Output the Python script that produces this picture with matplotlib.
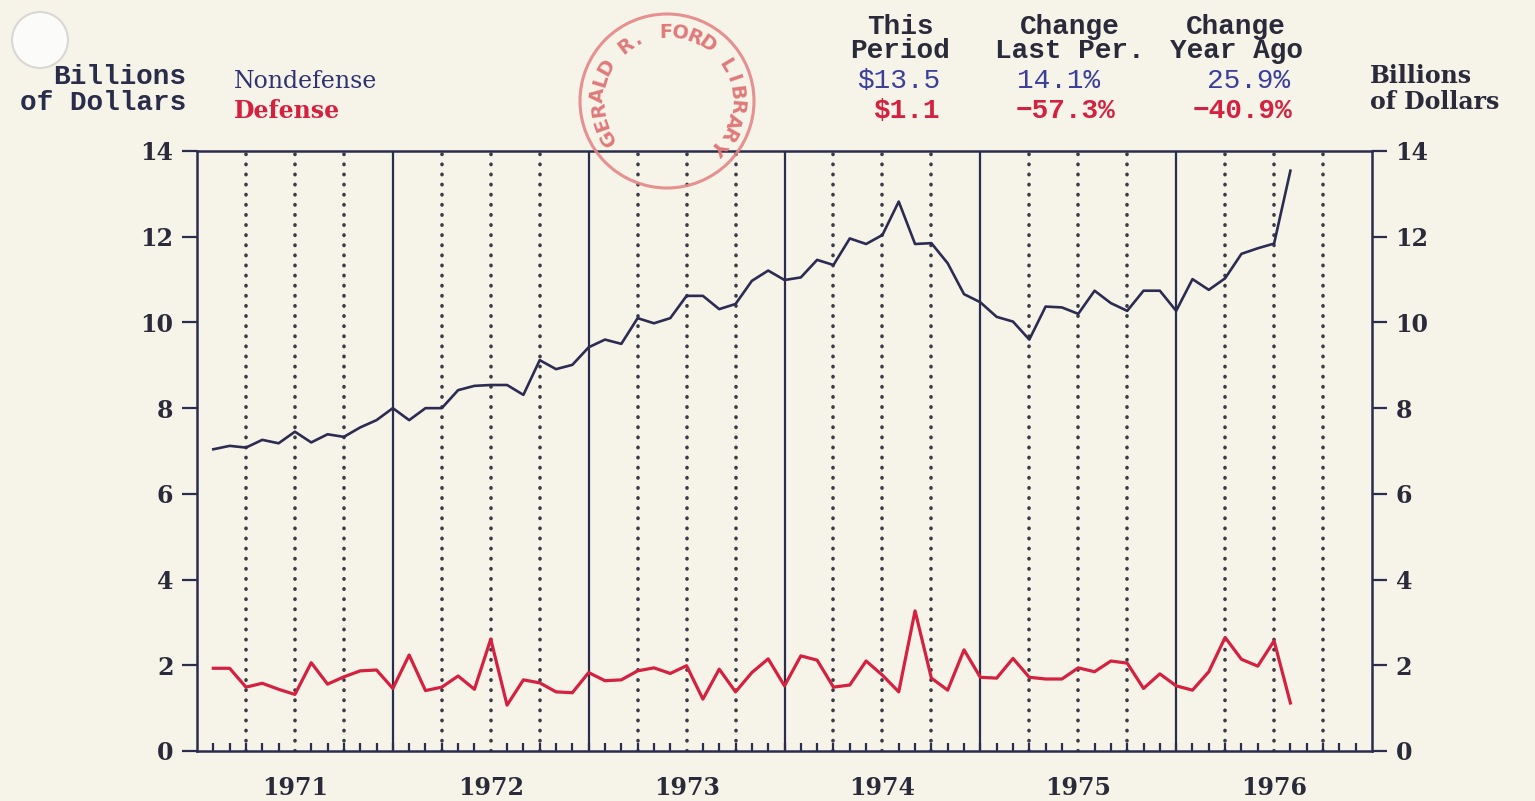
import numpy as np
import pandas as pd
import matplotlib
matplotlib.use("Agg")
import matplotlib.pyplot as plt
from matplotlib.patches import Circle

# -------------------------------
# Data (monthly, Jan 1971 - Jul 1976, billions of dollars)
# -------------------------------
months = pd.period_range("1971-01", "1976-07", freq="M")

nondefense = [
    7.04, 7.12, 7.08, 7.26, 7.18, 7.45, 7.20, 7.39, 7.33, 7.55, 7.72, 8.00,
    7.72, 8.00, 8.00, 8.42, 8.52, 8.54, 8.54, 8.31, 9.12, 8.91, 9.01, 9.42,
    9.60, 9.50, 10.10, 9.98, 10.10, 10.62, 10.62, 10.31, 10.43, 10.97, 11.21, 10.99,
    11.05, 11.46, 11.34, 11.96, 11.83, 12.04, 12.82, 11.83, 11.85, 11.38, 10.66, 10.47,
    10.13, 10.02, 9.60, 10.37, 10.35, 10.20, 10.74, 10.45, 10.27, 10.74, 10.74, 10.27,
    11.01, 10.76, 11.03, 11.60, 11.73, 11.84, 13.54,
]

defense = [
    1.93, 1.93, 1.49, 1.58, 1.44, 1.32, 2.06, 1.56, 1.73, 1.87, 1.89, 1.46,
    2.24, 1.41, 1.49, 1.75, 1.44, 2.61, 1.07, 1.66, 1.59, 1.38, 1.36, 1.83,
    1.64, 1.66, 1.87, 1.94, 1.81, 1.99, 1.21, 1.91, 1.38, 1.83, 2.15, 1.52,
    2.22, 2.12, 1.49, 1.54, 2.10, 1.77, 1.38, 3.27, 1.70, 1.42, 2.36, 1.72,
    1.70, 2.16, 1.72, 1.68, 1.68, 1.94, 1.85, 2.10, 2.05, 1.46, 1.80, 1.52,
    1.42, 1.85, 2.65, 2.14, 1.98, 2.57, 1.12,
]

years = [1971, 1972, 1973, 1974, 1975, 1976]
y_ticks = [0, 2, 4, 6, 8, 10, 12, 14]

header_cols = ["This\nPeriod", "Change\nLast Per.", "Change\nYear Ago"]
nondef_stats = ["$13.5", "14.1%", "25.9%"]
def_stats = ["$1.1", "\u221257.3%", "\u221240.9%"]

stamp_text = "GERALD R. FORD LIBRARY"

# -------------------------------
# Style
# -------------------------------
W, H = 1535, 801
bg = "#f6f3e9"
navy = "#2b2d4e"
line_navy = "#2c2b52"
red = "#d4213f"
blue = "#3a3f9a"
serif = "DejaVu Serif"
mono = "Liberation Mono"

# x position: months since Dec 1970, plotted at month end
x = np.array([(p.year - 1971) * 12 + p.month for p in months])

fig = plt.figure(figsize=(W / 100, H / 100), dpi=100, facecolor=bg)
ax = fig.add_axes([197 / W, 1 - 751 / H, (1372 - 197) / W, 600 / H])
ax.set_facecolor(bg)

# quarter / year gridlines
for q in range(3, 72, 3):
    if q % 12 == 0:
        ax.axvline(q, color=navy, lw=1.6, zorder=1)
    else:
        ax.axvline(q, color="#3a3a48", lw=2.6, ls=(0, (0.1, 2.7)),
                   dash_capstyle="round", zorder=1)

ax.plot(x, nondefense, color=line_navy, lw=1.9, zorder=3)
ax.plot(x, defense, color=red, lw=2.3, zorder=3)

ax.set_xlim(0, 72)
ax.set_ylim(0, 14)

ax.set_xticks([(y - 1971) * 12 + 6 for y in years])
ax.set_xticklabels([str(y) for y in years])
ax.set_xticks(range(1, 72), minor=True)
ax.tick_params(axis="x", which="major", length=0, pad=18)
ax.tick_params(axis="x", which="minor", direction="in", length=6, width=1.6, color=navy)

ax.set_yticks(y_ticks)
ax.tick_params(axis="y", which="major", direction="out", length=11, width=1.6,
               color=navy, left=True, right=True, labelleft=True, labelright=True, pad=6)

for lab in ax.get_xticklabels():
    lab.set_fontfamily(serif)
    lab.set_fontweight("bold")
    lab.set_fontsize(17)
    lab.set_color("#2a2a3a")
for t in ax.yaxis.get_major_ticks():
    for lbl in (t.label1, t.label2):
        lbl.set_fontfamily(serif)
        lbl.set_fontweight("bold")
        lbl.set_fontsize(17)
        lbl.set_color("#2a2a3a")

for s in ax.spines.values():
    s.set_color(navy)
    s.set_linewidth(1.8)


def ftext(px, py, s, **kw):
    fig.text(px / W, 1 - py / H, s, va="center", **kw)


# -------------------------------
# Header texts
# -------------------------------
ftext(186, 90, "Billions\nof Dollars", ha="right", family=mono, weight="bold",
      fontsize=20, color="#2a2d4a", linespacing=1.0)
ftext(234, 82, "Nondefense", ha="left", family=serif, fontsize=17, color="#2e3270")
ftext(234, 111, "Defense", ha="left", family=serif, weight="bold", fontsize=17, color=red)

ftext(1370, 89, "Billions\nof Dollars", ha="left", family=serif, weight="bold",
      fontsize=17, color="#2a2a3a", linespacing=1.1)

col_x = [900, 1070, 1236]
for cx, lab in zip(col_x, header_cols):
    ftext(cx, 39, lab, ha="center", family=mono, weight="bold", fontsize=20,
          color="#2a2a3a", linespacing=0.95)

val_x = [940, 1100, 1290]
for vx, s in zip(val_x, nondef_stats):
    ftext(vx, 81, s, ha="right", family=mono, fontsize=20, color=blue)
val_x2 = [940, 1115, 1292]
for vx, s in zip(val_x2, def_stats):
    ftext(vx, 111, s, ha="right", family=mono, weight="bold", fontsize=20, color=red)

# -------------------------------
# Archive stamp and hole punch
# -------------------------------
ov = fig.add_axes([0, 0, 1, 1], facecolor="none")
ov.set_xlim(0, W)
ov.set_ylim(H, 0)
ov.axis("off")

cx, cy, r = 667, 101, 87
ov.add_patch(Circle((cx, cy), r, fill=False, ec="#e58585", lw=2.2, alpha=0.9))
angles = np.linspace(211, -41, len(stamp_text))
for ch, a in zip(stamp_text, angles):
    rad = np.deg2rad(a)
    ov.text(cx + 69 * np.cos(rad), cy - 69 * np.sin(rad), ch, rotation=a - 90,
            ha="center", va="center", fontsize=14, color="#e07a7a",
            family="DejaVu Sans", weight="bold")

ov.add_patch(Circle((40, 40), 28, fc="#fbfbf9", ec="#d8d8d2", lw=1.5))

fig.savefig("out.png", dpi=100, facecolor=bg)
